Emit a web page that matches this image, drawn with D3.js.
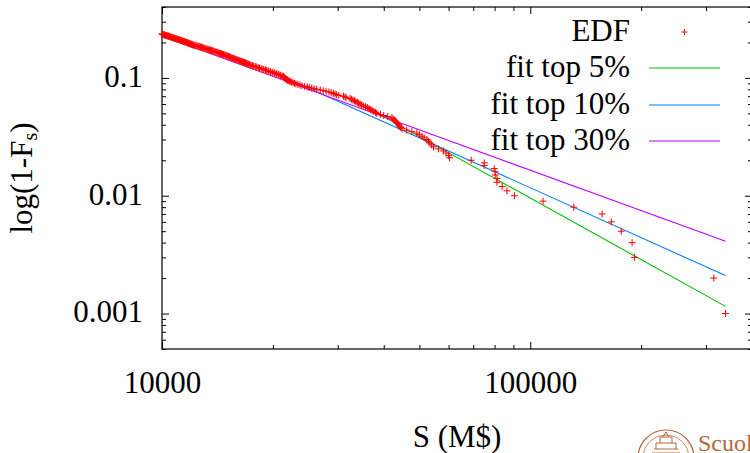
<!DOCTYPE html>
<html>
<head>
<meta charset="utf-8">
<script src="https://cdn.jsdelivr.net/npm/d3@7"></script>
<style>
  body { margin: 0; background: #ffffff; }
  svg { display: block; }
</style>
</head>
<body>
<div id="chart"></div>
<script>
// Define colors
var edfColor = "#ff0000";
var fitColors = ["#00c000", "#0080ff", "#c000ff"];
var axisColor = "#000000";
var logoColor = "#b5673a";

// Define dimensions
const width = 750;
const height = 453;
const plotLeft = 162;
const plotRight = 752;
const plotTop = 7;
const plotBottom = 349;
const fontFamily = "Liberation Serif, Times New Roman, Times, serif";
const fontSize = "31px";

// EDF: firm size S (M$) by rank, rank 1 = largest, out of nFirms
const nFirms = 1000;
const edfSize = [
  339000, 315000, 192000, 189000, 176600, 166000, 156700, 131300, 108300, 90600,
  86450, 83900, 81200, 81200, 80300, 80300, 79800, 75000, 75000, 69100,
  60400, 60000, 59100, 58100, 56300, 54600, 54000, 53400, 52900, 52400,
  51500, 50800, 50000, 49200, 47700, 46200, 44800, 44500, 44200, 43900,
  43600, 43300, 43000, 42700, 42400, 42100, 41000, 40000, 39200, 38300,
  38000, 37600, 37200, 36900, 36500, 36100, 35700, 35200, 34800, 34500,
  34200, 33900, 33600, 33300, 33000, 32700, 32400, 31600, 31400, 31100,
  30200, 29800, 29500, 29200, 28800, 28400, 27900, 27400, 26900, 26300,
  25900, 25500, 25100, 24800, 24400, 24000, 23700, 23400, 23100, 22900,
  22700, 22500, 22300, 22150, 22000, 21900, 21800, 21700, 21600, 21550,
  21450, 21400, 21360, 21200, 21000, 20900, 20700, 20500, 20400, 20200,
  20000, 19900, 19700, 19500, 19400, 19200, 19100, 18900, 18800, 18600,
  18400, 18300, 18100, 18000, 17900, 17700, 17600, 17450, 17340, 17250,
  17150, 17050, 16950, 16850, 16750, 16650, 16550, 16450, 16350, 16250,
  16150, 16050, 15950, 15850, 15750, 15650, 15550, 15470, 15400, 15320,
  15250, 15170, 15090, 15020, 14930, 14850, 14760, 14680, 14590, 14510,
  14420, 14340, 14260, 14180, 14100, 14020, 13940, 13860, 13780, 13700,
  13620, 13540, 13470, 13390, 13310, 13240, 13160, 13090, 13010, 12940,
  12870, 12800, 12730, 12660, 12590, 12510, 12430, 12350, 12250, 12160,
  12110, 12060, 12010, 11960, 11910, 11860, 11810, 11760, 11710, 11660,
  11610, 11560, 11510, 11460, 11410, 11360, 11310, 11260, 11210, 11160,
  11110, 11060, 11010, 10960, 10910, 10860, 10820, 10780, 10730, 10680,
  10640, 10590, 10540, 10500, 10450, 10410, 10360, 10320, 10270, 10230,
  10190, 10150, 10110, 10070, 10030, 10000
];

// Power-law fits, straight lines in log-log: [S from, S to], [P from, P to]
const fitNames = ["fit top 5%", "fit top 10%", "fit top 30%"];
const fitSizeRange = [[38300, 339000], [21500, 339000], [10000, 339000]];
const fitProbRange = [[0.0505, 0.00115], [0.1014, 0.0021], [0.227, 0.0041]];

// Axes
const xDomain = [10000, 400000];
const yDomain = [0.0005, 0.4];
const xTickValues = [10000, 100000];
const xTickLabels = ["10000", "100000"];
const yTickValues = [0.001, 0.01, 0.1];
const yTickLabels = ["0.001", "0.01", "0.1"];

var x = d3.scaleLog().domain(xDomain).range([plotLeft, plotRight]);
var y = d3.scaleLog().domain(yDomain).range([plotBottom, plotTop]);

var svg = d3.select("#chart")
  .append("svg")
  .attr("width", width)
  .attr("height", height)
  .style("font-family", fontFamily);

svg.append("defs")
  .append("clipPath")
  .attr("id", "plot-clip")
  .append("rect")
  .attr("x", plotLeft)
  .attr("y", plotTop)
  .attr("width", plotRight - plotLeft)
  .attr("height", plotBottom - plotTop);

/*
Tick helpers: major ticks with labels, minor ticks without.
*/
function minorTicks(scale) {
  return scale.ticks().filter(function(v) {
    var l = Math.log10(v);
    return Math.abs(l - Math.round(l)) > 1e-6;
  });
}

function styleAxis(g) {
  g.attr("font-family", null).attr("font-size", null);
  g.select(".domain").remove();
  g.selectAll(".tick line")
    .attr("stroke", axisColor)
    .attr("stroke-width", 1);
  g.selectAll(".tick text")
    .attr("fill", axisColor)
    .style("font-size", fontSize);
}

// Left axis
svg.append("g")
  .attr("transform", `translate(${plotLeft},0)`)
  .call(d3.axisLeft(y).tickValues(yTickValues)
    .tickFormat((d, i) => yTickLabels[i]).tickSize(-7).tickPadding(19))
  .call(styleAxis)
  .selectAll(".tick text").attr("dy", "0.27em");
svg.append("g")
  .attr("transform", `translate(${plotLeft},0)`)
  .call(d3.axisLeft(y).tickValues(minorTicks(y)).tickFormat("").tickSize(-4))
  .call(styleAxis);

// Right axis (mirror)
svg.append("g")
  .attr("transform", `translate(${plotRight},0)`)
  .call(d3.axisRight(y).tickValues(yTickValues).tickFormat("").tickSize(-7))
  .call(styleAxis);
svg.append("g")
  .attr("transform", `translate(${plotRight},0)`)
  .call(d3.axisRight(y).tickValues(minorTicks(y)).tickFormat("").tickSize(-4))
  .call(styleAxis);

// Bottom axis
svg.append("g")
  .attr("transform", `translate(0,${plotBottom})`)
  .call(d3.axisBottom(x).tickValues(xTickValues)
    .tickFormat((d, i) => xTickLabels[i]).tickSize(-7).tickPadding(22))
  .call(styleAxis);
svg.append("g")
  .attr("transform", `translate(0,${plotBottom})`)
  .call(d3.axisBottom(x).tickValues(minorTicks(x)).tickFormat("").tickSize(-4))
  .call(styleAxis);

// Top axis (mirror)
svg.append("g")
  .attr("transform", `translate(0,${plotTop})`)
  .call(d3.axisTop(x).tickValues(xTickValues).tickFormat("").tickSize(-7))
  .call(styleAxis);
svg.append("g")
  .attr("transform", `translate(0,${plotTop})`)
  .call(d3.axisTop(x).tickValues(minorTicks(x)).tickFormat("").tickSize(-4))
  .call(styleAxis);

// Border
svg.append("rect")
  .attr("x", plotLeft)
  .attr("y", plotTop)
  .attr("width", plotRight - plotLeft)
  .attr("height", plotBottom - plotTop)
  .attr("fill", "none")
  .attr("stroke", axisColor)
  .attr("stroke-width", 1.2);

// Fit lines
var fitData = fitNames.map(function(name, i) {
  return {
    name: name,
    color: fitColors[i],
    points: [
      [fitSizeRange[i][0], fitProbRange[i][0]],
      [fitSizeRange[i][1], fitProbRange[i][1]]
    ]
  };
});

var line = d3.line()
  .x(d => x(d[0]))
  .y(d => y(d[1]));

svg.append("g")
  .attr("clip-path", "url(#plot-clip)")
  .selectAll("path.fit")
  .data(fitData)
  .enter()
  .append("path")
  .attr("class", "fit")
  .attr("d", d => line(d.points))
  .attr("fill", "none")
  .attr("stroke", d => d.color)
  .attr("stroke-width", 1.1);

// EDF points as "+" marks
var edfData = edfSize.map((s, i) => ({ size: s, prob: (i + 1) / nFirms }))
  .filter(d => d.size >= xDomain[0]);

function plusPath(cx, cy, r) {
  return `M${cx - r},${cy}H${cx + r}M${cx},${cy - r}V${cy + r}`;
}

svg.append("g")
  .selectAll("path.edf")
  .data(edfData)
  .enter()
  .append("path")
  .attr("class", "edf")
  .attr("d", d => plusPath(x(d.size), y(d.prob), 3.5))
  .attr("fill", "none")
  .attr("stroke", edfColor)
  .attr("stroke-width", 1);

// Legend
const legendTextX = 630;
const legendSampleX = [649, 720];
const legendY = [32, 68, 105, 141];
var legendNames = ["EDF"].concat(fitNames);

var legend = svg.append("g");
legend.selectAll("text")
  .data(legendNames)
  .enter()
  .append("text")
  .attr("x", legendTextX)
  .attr("y", (d, i) => legendY[i])
  .attr("dy", "0.3em")
  .attr("text-anchor", "end")
  .style("font-size", fontSize)
  .attr("fill", axisColor)
  .text(d => d);

legend.append("path")
  .attr("d", plusPath((legendSampleX[0] + legendSampleX[1]) / 2, legendY[0], 3))
  .attr("stroke", edfColor)
  .attr("stroke-width", 1);

legend.selectAll("line")
  .data(fitData)
  .enter()
  .append("line")
  .attr("x1", legendSampleX[0])
  .attr("x2", legendSampleX[1])
  .attr("y1", (d, i) => legendY[i + 1])
  .attr("y2", (d, i) => legendY[i + 1])
  .attr("stroke", d => d.color)
  .attr("stroke-width", 1.1);

// Axis titles
svg.append("text")
  .attr("x", (plotLeft + plotRight) / 2)
  .attr("y", 447)
  .attr("text-anchor", "middle")
  .style("font-size", fontSize)
  .text("S (M$)");

var yTitle = svg.append("text")
  .attr("transform", `translate(32,${(plotTop + plotBottom) / 2}) rotate(-90)`)
  .attr("text-anchor", "middle")
  .style("font-size", fontSize);
yTitle.append("tspan").text("log(1-F");
yTitle.append("tspan").style("font-size", "20px").attr("dy", 5).text("s");
yTitle.append("tspan").attr("dy", -5).text(")");

// Logo in the bottom-right corner
var logo = svg.append("g").attr("stroke", logoColor).attr("fill", "none");
logo.append("circle").attr("cx", 666).attr("cy", 458).attr("r", 28).attr("stroke-width", 1.2);
logo.append("circle").attr("cx", 666).attr("cy", 458).attr("r", 23).attr("stroke-width", 0.8);
logo.append("path")
  .attr("d", "M652,453H680M654,449H678M656,449V443H676V449M660,443V437H672V443M663,437L666,432L669,437")
  .attr("stroke-width", 1);
svg.append("text")
  .attr("x", 698)
  .attr("y", 451)
  .style("font-size", "24px")
  .attr("fill", logoColor)
  .text("Scuola");
</script>
</body>
</html>
